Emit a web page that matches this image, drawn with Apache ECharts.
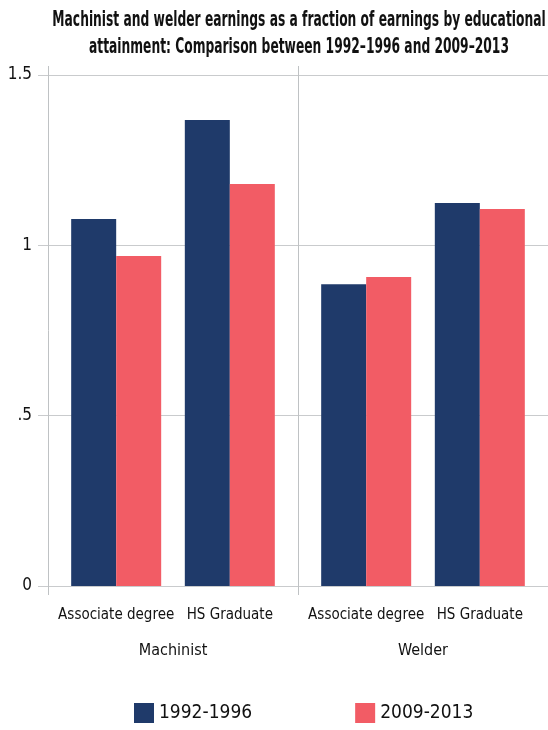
<!DOCTYPE html>
<html>
<head>
<meta charset="utf-8">
<script src="https://cdn.jsdelivr.net/npm/echarts@6/dist/echarts.min.js"></script>
<style>
html,body{margin:0;padding:0;background:#fff;}
#chart{width:548px;height:730px;}
</style>
</head>
<body>
<div id="chart"></div>
<script>
// ---- data ----
const categories = ['Associate degree', 'HS Graduate', 'Associate degree', 'HS Graduate'];
const groups = ['Machinist', 'Welder'];
const seriesNames = ['1992-1996', '2009-2013'];
const values1992 = [1.077, 1.368, 0.886, 1.124];
const values2009 = [0.969, 1.180, 0.907, 1.107];
const yTickLabels = ['0', '.5', '1', '1.5'];
const titleText = 'Machinist and welder earnings as a fraction of earnings by educational\nattainment: Comparison between 1992\u20131996 and 2009\u20132013';

// ---- layout (slot positions on the category axis) ----
const slotCount = 45;
const barSlots = [6, 16, 28, 38];
const groupSlots = [11, 33];
const boundarySlots = [0, 22, 44];

const FONT = "'DejaVu Sans Condensed','Liberation Sans Narrow',sans-serif";
const GRID = '#c9cbcd';
const AXIS = '#bfc2c4';
const TEXT = '#111111';

const slots = Array.from({length: slotCount}, (_, i) => String(i));
const catLabelAt = {};
barSlots.forEach((s, i) => { catLabelAt[s] = categories[i]; });
const groupLabelAt = {};
groupSlots.forEach((s, i) => { groupLabelAt[s] = groups[i]; });

const chart = echarts.init(document.getElementById('chart'), null, {renderer: 'canvas'});
chart.setOption({
  animation: false,
  textStyle: {fontFamily: FONT},
  graphic: [{
    type: 'text',
    x: 299,
    y: 7,
    scaleX: 0.65,
    style: {
      text: titleText,
      fontFamily: FONT,
      fontWeight: 'bold',
      fontSize: 21,
      lineHeight: 27,
      textAlign: 'center',
      textVerticalAlign: 'top',
      fill: '#111'
    }
  }],
  grid: {left: 48, right: 0, top: 75, bottom: 144, containLabel: false},
  legend: {
    top: 703,
    left: 134,
    padding: 0,
    itemWidth: 20,
    itemHeight: 20,
    itemGap: 103,
    icon: 'rect',
    textStyle: {fontFamily: FONT, fontSize: 19, color: TEXT},
    data: seriesNames
  },
  xAxis: [
    {
      type: 'category', data: slots, boundaryGap: false, position: 'bottom',
      axisLine: {show: true, lineStyle: {color: GRID, width: 1}},
      axisTick: {show: true, length: 9, interval: (i) => boundarySlots.includes(i), lineStyle: {color: AXIS}},
      axisLabel: {
        interval: (i) => catLabelAt[i] !== undefined,
        formatter: (v, i) => catLabelAt[i] || '',
        hideOverlap: false,
        margin: 22, fontSize: 15, color: TEXT, fontFamily: FONT
      },
      splitLine: {show: true, interval: (i) => i === boundarySlots[1], lineStyle: {color: AXIS, width: 1}}
    },
    {
      type: 'category', data: slots, boundaryGap: false, position: 'bottom',
      axisLine: {show: false}, axisTick: {show: false}, splitLine: {show: false},
      axisLabel: {
        interval: (i) => groupLabelAt[i] !== undefined,
        formatter: (v, i) => groupLabelAt[i] || '',
        hideOverlap: false,
        margin: 57, fontSize: 16, color: TEXT, fontFamily: FONT
      }
    },
    {
      type: 'category', data: slots, boundaryGap: false, position: 'top',
      axisLine: {show: false}, splitLine: {show: false}, axisLabel: {show: false},
      axisTick: {show: true, length: 9, interval: (i) => i === boundarySlots[0] || i === boundarySlots[1], lineStyle: {color: AXIS}}
    }
  ],
  yAxis: {
    type: 'value', min: 0, max: 1.5, interval: 0.5,
    axisLine: {show: true, lineStyle: {color: AXIS}},
    axisTick: {show: true, length: 10, lineStyle: {color: GRID}},
    axisLabel: {
      formatter: (v) => yTickLabels[Math.round(v / 0.5)],
      margin: 16, fontSize: 17, color: TEXT, fontFamily: FONT
    },
    splitLine: {show: true, lineStyle: {color: GRID, width: 1}}
  },
  series: [
    {
      name: seriesNames[0], type: 'bar', xAxisIndex: 0, barWidth: 45, barGap: '0%',
      itemStyle: {color: '#1f3a6a'},
      data: values1992.map((v, i) => [barSlots[i], v])
    },
    {
      name: seriesNames[1], type: 'bar', xAxisIndex: 0, barWidth: 45, barGap: '0%',
      itemStyle: {color: '#f25c65'},
      data: values2009.map((v, i) => [barSlots[i], v])
    }
  ]
});
</script>
</body>
</html>
